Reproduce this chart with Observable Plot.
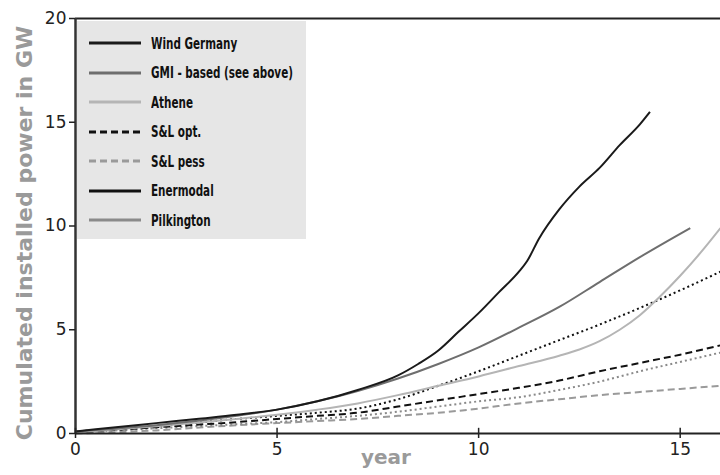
<!DOCTYPE html>
<html>
<head>
<meta charset="utf-8">
<script src="https://cdn.jsdelivr.net/npm/d3@7"></script>
<script src="https://cdn.jsdelivr.net/npm/@observablehq/plot@0.6"></script>
<style>
  body { margin: 0; background: #fff; }
  #wrap { position: relative; width: 720px; height: 475px; overflow: hidden; }
  #legend { position: absolute; left: 77px; top: 21px; width: 229px; height: 218px; background: #e6e6e6; }
  .row { position: absolute; left: 0; height: 20px; display: flex; align-items: center; white-space: nowrap; }
  .row svg { margin-left: 12px; flex: none; }
  .row span { margin-left: 10px; font-family: "DejaVu Sans", sans-serif; font-weight: bold; font-size: 16px; color: #111; display: inline-block; transform: scaleX(0.65); transform-origin: left center; white-space: nowrap; }
</style>
</head>
<body>
<div id="wrap"><div id="legend"></div></div>
<script>
// ---- data ----
const windX = [0, 1, 2, 3, 4, 5, 6, 7, 8, 8.5, 9, 9.5, 10, 10.5, 11, 11.2, 11.5, 12, 12.5, 13, 13.5, 14, 14.25];
const windY = [0.1, 0.3, 0.5, 0.7, 0.9, 1.15, 1.55, 2.1, 2.8, 3.35, 4.0, 4.9, 5.8, 6.8, 7.8, 8.3, 9.4, 10.8, 11.9, 12.8, 13.9, 14.9, 15.5];

const gmiX = [0, 2, 4, 5, 6, 7, 8, 9, 10, 11, 12, 13, 14, 15.25];
const gmiY = [0.1, 0.4, 0.85, 1.15, 1.55, 2.05, 2.65, 3.35, 4.15, 5.1, 6.1, 7.3, 8.5, 9.9];

const atheneX = [0, 2, 4, 5, 6, 7, 8, 9, 10, 11, 12, 12.5, 13, 13.5, 14, 14.5, 15, 15.5, 16];
const atheneY = [0.05, 0.35, 0.7, 0.9, 1.15, 1.45, 1.85, 2.3, 2.75, 3.25, 3.75, 4.05, 4.45, 5.0, 5.7, 6.6, 7.6, 8.7, 9.9];

const yearsX = [0, 2, 4, 5, 6, 7, 8, 9, 10, 11, 12, 13, 14, 15, 16];
const slOptY = [0.05, 0.3, 0.55, 0.7, 0.85, 1.0, 1.3, 1.6, 1.9, 2.2, 2.55, 3.0, 3.4, 3.8, 4.25];
const slPessY = [0.0, 0.15, 0.4, 0.5, 0.6, 0.7, 0.85, 1.0, 1.2, 1.45, 1.65, 1.85, 2.0, 2.15, 2.3];
const enermodalY = [0.1, 0.35, 0.7, 0.85, 1.0, 1.2, 1.65, 2.3, 3.0, 3.75, 4.5, 5.25, 6.05, 6.9, 7.8];
const pilkingtonY = [0.05, 0.25, 0.45, 0.55, 0.7, 0.85, 1.05, 1.3, 1.55, 1.75, 2.1, 2.5, 3.0, 3.45, 3.9];

const xTicks = [0, 5, 10, 15];
const yTicks = [0, 5, 10, 15, 20];

const seriesNames = ["Wind Germany", "GMI - based (see above)", "Athene", "S&L opt.", "S&L pess", "Enermodal", "Pilkington"];

// ---- styles ----
const styles = {
  "Wind Germany": {stroke: "#1a1a1a", dash: null, legendDash: null},
  "GMI - based (see above)": {stroke: "#6e6e6e", dash: null, legendDash: null},
  "Athene": {stroke: "#b5b5b5", dash: null, legendDash: null},
  "S&L opt.": {stroke: "#111", dash: "7,4", legendDash: "7,4"},
  "S&L pess": {stroke: "#9a9a9a", dash: "7,4", legendDash: "7,4"},
  "Enermodal": {stroke: "#111", dash: "2,3", legendDash: null},
  "Pilkington": {stroke: "#8a8a8a", dash: "2,3", legendDash: null}
};

const zip = (xs, ys) => xs.map((x, i) => ({x, y: ys[i]}));
const seriesData = {
  "Wind Germany": zip(windX, windY),
  "GMI - based (see above)": zip(gmiX, gmiY),
  "Athene": zip(atheneX, atheneY),
  "S&L opt.": zip(yearsX, slOptY),
  "S&L pess": zip(yearsX, slPessY),
  "Enermodal": zip(yearsX, enermodalY),
  "Pilkington": zip(yearsX, pilkingtonY)
};

const drawOrder = ["S&L pess", "Pilkington", "S&L opt.", "Enermodal", "Athene", "GMI - based (see above)", "Wind Germany"];

const lineMarks = drawOrder.map(name => Plot.line(seriesData[name], {
  x: "x", y: "y", curve: "monotone-x",
  stroke: styles[name].stroke, strokeWidth: 2,
  strokeDasharray: styles[name].dash || undefined,
  strokeLinecap: "butt"
}));

const chart = Plot.plot({
  width: 720,
  height: 475,
  marginLeft: 75,
  marginRight: 0,
  marginTop: 18,
  marginBottom: 42,
  style: {fontFamily: "'DejaVu Sans', sans-serif", fontSize: "17px", color: "#222", background: "transparent", overflow: "visible"},
  x: {domain: [0, 16]},
  y: {domain: [0, 20]},
  marks: [
    ...lineMarks,
    Plot.ruleY([20], {stroke: "#222", strokeWidth: 2}),
    Plot.ruleY([0], {stroke: "#222", strokeWidth: 2}),
    Plot.ruleX([0], {stroke: "#333", strokeWidth: 2.5}),
    Plot.axisY({ticks: yTicks, tickSize: 6, tickPadding: 3, label: null, stroke: "#222", strokeWidth: 1.5, fill: "#222", fontSize: 17}),
    Plot.axisX({ticks: xTicks, tickSize: 5, tickPadding: 4, label: null, stroke: "#222", strokeWidth: 1.5, fill: "#222", fontSize: 17}),
    Plot.ruleX(xTicks, {x: d => d, y1: 0, y2: 0.25, stroke: "#222", strokeWidth: 1.5}),
    Plot.text(["Cumulated installed power in GW"], {
      frameAnchor: "left", dx: -51, dy: 7, rotate: -90, textAnchor: "middle",
      fontSize: 22, fontWeight: "bold", fill: "#9a9a9a",
      fontFamily: "'DejaVu Sans', sans-serif"
    }),
    Plot.text(["year"], {
      frameAnchor: "bottom", dx: -12, dy: 30, textAnchor: "middle",
      fontSize: 20, fontWeight: "bold", fill: "#9a9a9a",
      fontFamily: "'DejaVu Sans', sans-serif"
    })
  ]
});

const wrap = document.getElementById("wrap");
wrap.insertBefore(chart, wrap.firstChild);

// ---- legend ----
const legend = document.getElementById("legend");
seriesNames.forEach((name, i) => {
  const row = document.createElement("div");
  row.className = "row";
  row.style.top = (12 + i * 29.5) + "px";
  const st = styles[name];
  row.innerHTML = `<svg width="52" height="6"><line x1="0" y1="3" x2="52" y2="3" stroke="${st.stroke}" stroke-width="3" ${st.legendDash ? `stroke-dasharray="${st.legendDash}"` : ""}/></svg><span>${name.replace("&", "&amp;")}</span>`;
  legend.appendChild(row);
});
</script>
</body>
</html>
